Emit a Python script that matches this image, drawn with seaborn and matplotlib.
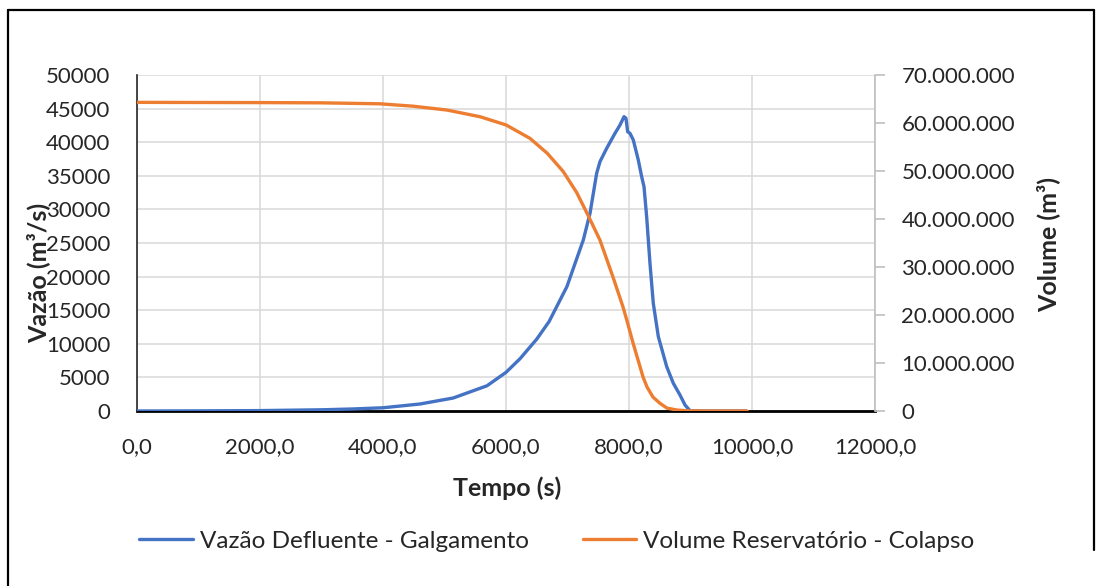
import matplotlib
matplotlib.use("Agg")
import matplotlib.pyplot as plt
import matplotlib.ticker as mticker
from matplotlib.lines import Line2D
import seaborn as sns
import pandas as pd

# ---- data ----
flow_time = [0, 1000, 2000, 3000, 3500, 4000, 4600, 5140, 5690, 6000, 6230,
             6500, 6700, 6990, 7257, 7366, 7420, 7474, 7528, 7637, 7772, 7854,
             7919, 7951, 7978, 8016, 8070, 8151, 8206, 8244, 8287, 8341, 8395,
             8477, 8613, 8721, 8829, 8911, 8992, 9200, 9900]
flow_values = [0, 20, 60, 180, 300, 480, 1040, 1930, 3750, 5750, 7800,
               10700, 13300, 18500, 25450, 29420, 32390, 35370, 37100, 39090, 41320, 42560,
               43800, 43550, 41560, 41320, 40330, 37350, 34870, 33380, 28920, 21980, 16030,
               11060, 6600, 4120, 2380, 890, 50, 0, 0]

vol_time = [0, 2000, 3000, 3950, 4490, 5040, 5580, 6000, 6390, 6670, 6930, 7150,
            7333, 7528, 7740, 7902, 7967, 8065, 8228, 8293, 8390, 8504, 8618,
            8780, 8943, 9200, 9920]
vol_values = [64.3e6, 64.25e6, 64.2e6, 64.0e6, 63.5e6, 62.7e6, 61.3e6, 59.6e6, 56.8e6,
              53.7e6, 49.9e6, 45.5e6, 40.8e6, 35.6e6, 27.9e6, 21.7e6, 18.8e6, 14.2e6,
              7.1e6, 5.0e6, 2.9e6, 1.6e6, 0.6e6, 0.2e6, 0.05e6, 0, 0]

flow_label = "Vazão Defluente - Galgamento"
vol_label = "Volume Reservatório - Colapso"
x_label = "Tempo (s)"
y_label = "Vazão (m³/s)"
y2_label = "Volume (m³)"

blue = "#4472C4"
orange = "#ED7D31"

sns.set_theme(style="white")
plt.rcParams["font.family"] = ["Lato", "DejaVu Sans"]
plt.rcParams["text.color"] = "#262626"

df_flow = pd.DataFrame({"t": flow_time, "q": flow_values})
df_vol = pd.DataFrame({"t": vol_time, "v": vol_values})

fig = plt.figure(figsize=(11.02, 5.86), dpi=100)
L, R, T, B = 137/1102, 875/1102, 1-75/586, 1-411/586
ax = fig.add_axes([L, B, R-L, T-B])
ax2 = ax.twinx()

sns.lineplot(data=df_flow, x="t", y="q", ax=ax, color=blue, lw=2.4, sort=False, zorder=3)
sns.lineplot(data=df_vol, x="t", y="v", ax=ax2, color=orange, lw=2.4, sort=False, zorder=3)
for ln in ax.lines + ax2.lines:
    ln.set_solid_joinstyle("round")
    ln.set_solid_capstyle("round")

ax.set_xlim(0, 12000)
ax.set_ylim(0, 50000)
ax2.set_ylim(0, 70e6)
ax.set_xticks(range(0, 12001, 2000))
ax.set_yticks(range(0, 50001, 5000))
ax2.set_yticks([i*10e6 for i in range(8)])

ax.xaxis.set_major_formatter(mticker.FuncFormatter(lambda v, p: f"{int(v)},0"))
ax.yaxis.set_major_formatter(mticker.FuncFormatter(lambda v, p: f"{int(v)}"))
ax2.yaxis.set_major_formatter(mticker.FuncFormatter(
    lambda v, p: "0" if v == 0 else f"{int(v):,}".replace(",", ".")))

ax.grid(True, color="#d9d9d9", lw=1.1)
ax.set_axisbelow(True)
ax.set_xlabel("")
ax.set_ylabel("")
ax2.set_ylabel("")

ax.spines["top"].set_visible(False)
ax2.spines["top"].set_visible(False)
ax.spines["right"].set_visible(False)
ax2.spines["left"].set_visible(False)
ax2.spines["bottom"].set_visible(False)
ax.spines["left"].set_color("#262626")
ax.spines["left"].set_linewidth(1.2)
ax.spines["bottom"].set_color("black")
ax.spines["bottom"].set_linewidth(2.0)
ax.spines["bottom"].set_zorder(2)
ax2.spines["right"].set_color("#bfbfbf")
ax2.spines["right"].set_linewidth(1.2)

ax.tick_params(axis="y", length=0, pad=19, labelsize=16, colors="#262626")
ax.tick_params(axis="x", length=0, pad=19, labelsize=16, colors="#262626")
ax2.tick_params(axis="y", length=7, width=1.2, color="#bfbfbf", pad=12,
                labelsize=16, labelcolor="#262626")

fig.text(38/1102, 1-273/586, y_label, rotation=90, ha="center", va="center",
         fontsize=18, fontweight="bold", color="#262626")
fig.text(1048/1102, 1-244/586, y2_label, rotation=90, ha="center", va="center",
         fontsize=18, fontweight="bold", color="#262626")
fig.text(507/1102, 1-488/586, x_label, ha="center", va="center",
         fontsize=18, fontweight="bold", color="#262626")

handles = [Line2D([], [], color=blue, lw=2.4), Line2D([], [], color=orange, lw=2.4)]
fig.legend(handles, [flow_label, vol_label], loc="center", ncol=2,
           bbox_to_anchor=(557/1102, 1-541/586), frameon=False, fontsize=17.5,
           handlelength=2.2, handletextpad=0.3, columnspacing=2.2)

# outer frame (top, left, right edges)
bx0, bx1, by0, by1 = 7.5/1102, 1094/1102, 1-10/586, 1-550/586
fig.add_artist(Line2D([bx0, bx1], [by0, by0], transform=fig.transFigure, color="black", lw=1.6))
fig.add_artist(Line2D([bx0, bx0], [by0, 0], transform=fig.transFigure, color="black", lw=1.6))
fig.add_artist(Line2D([bx1, bx1], [by0, by1], transform=fig.transFigure, color="black", lw=1.6))

fig.savefig("out.png", dpi=100)
